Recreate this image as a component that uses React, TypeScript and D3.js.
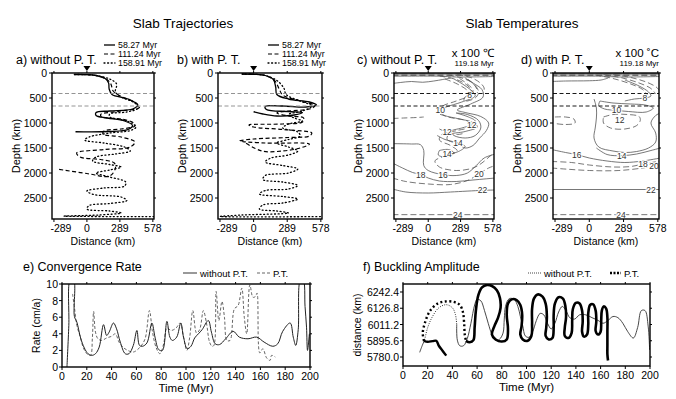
import React from "react";
import * as d3 from "d3";

type Pt = [number, number];
type Contour = { pts: Pt[]; dash?: boolean; label?: string; at?: Pt };

const FONT = "'Liberation Sans', Arial, Helvetica, sans-serif";

// depth sections (a-d)
const distTicks = [-289, 0, 289, 578];
const depthTicks = [0, 500, 1000, 1500, 2000, 2500];
const phaseDepths = [410, 660];
const snapLabels = ["58.27 Myr", "111.24 Myr", "158.91 Myr"];

// a) slab trajectories without phase transitions  [distance km, depth km]
const trajA58: Pt[] = [[-110, 30], [-20, 32], [80, 50], [160, 110], [190, 200], [195, 320], [220, 430], [360, 520], [445, 640], [400, 720], [200, 760], [80, 790], [80, 850], [180, 900], [330, 960], [400, 1050], [360, 1130], [200, 1170], [-100, 1175]];
const trajA111: Pt[] = [[-110, 30], [-20, 32], [80, 50], [170, 120], [210, 220], [230, 360], [300, 470], [430, 600], [460, 690], [300, 760], [120, 830], [130, 880], [300, 920], [410, 1000], [420, 1060], [300, 1120], [150, 1160], [140, 1220], [300, 1280], [420, 1380], [380, 1480], [150, 1530], [-90, 1600], [-60, 1680], [120, 1730], [240, 1800], [250, 1900], [200, 2060], [0, 2010], [-264, 1920]];
const trajA159: Pt[] = [[-110, 30], [-20, 32], [80, 50], [200, 120], [260, 220], [250, 380], [300, 480], [420, 600], [450, 700], [350, 780], [200, 820], [200, 880], [350, 960], [430, 1080], [380, 1150], [200, 1200], [20, 1280], [-20, 1340], [150, 1400], [330, 1480], [380, 1560], [250, 1620], [80, 1680], [50, 1760], [200, 1830], [300, 1880], [200, 1940], [80, 2000], [200, 2080], [340, 2180], [330, 2260], [150, 2300], [0, 2360], [60, 2430], [300, 2480], [350, 2550], [200, 2610], [20, 2650], [0, 2720], [200, 2760], [300, 2800], [100, 2840], [-200, 2862], [300, 2872], [590, 2872]];

// b) slab trajectories with phase transitions
const trajB58: Pt[] = [[-100, 20], [0, 25], [100, 50], [170, 130], [190, 280], [200, 430], [300, 520], [480, 580], [540, 640], [450, 680], [250, 660], [100, 670], [110, 730], [300, 770], [420, 790], [350, 840], [200, 860], [80, 820], [0, 775]];
const trajB111: Pt[] = [[-100, 20], [0, 25], [100, 50], [180, 150], [220, 320], [250, 440], [400, 560], [530, 650], [480, 720], [300, 760], [200, 800], [300, 860], [430, 900], [420, 980], [250, 1020], [-40, 1040], [0, 1080], [250, 1130], [500, 1200], [480, 1260], [300, 1290], [0, 1320], [-120, 1360], [100, 1400], [480, 1420], [400, 1500], [250, 1560], [70, 1560], [-90, 1370]];
const trajB159: Pt[] = [[-100, 20], [0, 25], [100, 50], [200, 150], [260, 300], [280, 430], [400, 560], [500, 660], [420, 760], [300, 830], [350, 900], [420, 960], [300, 1020], [250, 1100], [380, 1180], [400, 1260], [300, 1330], [200, 1400], [300, 1480], [380, 1560], [300, 1640], [150, 1700], [100, 1780], [250, 1850], [380, 1920], [300, 2000], [100, 2050], [80, 2130], [250, 2180], [380, 2250], [300, 2320], [100, 2350], [50, 2420], [250, 2470], [380, 2520], [250, 2600], [80, 2640], [50, 2720], [200, 2760], [300, 2800], [-100, 2840], [-289, 2870], [590, 2872]];

// c) temperature contours without phase transitions (x 100 C)
const tempC: Contour[] = [
  { pts: [[-320, 8], [600, 8]] },
  { pts: [[-320, 22], [600, 22]], dash: true },
  { pts: [[-320, 36], [600, 36]] },
  { pts: [[-320, 50], [600, 50]], dash: true },
  { pts: [[-320, 64], [100, 64], [250, 80], [600, 70]] },
  { pts: [[-320, 210], [-250, 190], [-150, 170], [-50, 185], [50, 160], [130, 130], [200, 100]] },
  { pts: [[100, 60], [250, 130], [340, 230], [380, 330], [390, 420]], dash: true },
  { pts: [[180, 40], [300, 100], [390, 190], [430, 300], [440, 400]], dash: true },
  { pts: [[260, 30], [380, 90], [460, 190], [500, 300], [490, 420]], dash: true },
  { pts: [[280, 110], [350, 220], [400, 340], [390, 410], [330, 480], [320, 560], [420, 500], [450, 380], [420, 250], [350, 120]], dash: true, label: "8", at: [370, 433] },
  { pts: [[230, 120], [320, 240], [400, 380], [420, 460], [300, 580], [160, 680], [107, 733], [130, 830], [260, 910], [400, 990], [440, 1080], [330, 1170], [180, 1240], [170, 1330], [270, 1420], [330, 1500], [400, 1450], [460, 1300], [520, 1150], [540, 1000], [470, 870], [330, 790], [260, 740], [380, 620], [490, 480], [480, 330], [400, 200], [330, 100]], label: "10", at: [107, 733] },
  { pts: [[150, 120], [260, 220], [350, 350], [370, 440], [250, 560], [120, 670], [80, 780], [180, 880], [350, 960], [400, 1060], [260, 1150], [120, 1230], [100, 1340], [200, 1450], [260, 1560], [150, 1660], [60, 1760], [100, 1880], [250, 1950], [400, 1900], [480, 1800], [560, 1650], [600, 1600]], dash: true },
  { pts: [[250, 800], [360, 880], [420, 960], [390, 1033], [300, 1100], [200, 1170], [230, 1250], [330, 1300], [420, 1250], [470, 1100], [450, 950], [350, 830], [250, 800]], label: "12", at: [390, 1033] },
  { pts: [[100, 1120], [169, 1187], [260, 1230], [330, 1200]], dash: true, label: "12", at: [169, 1187] },
  { pts: [[80, 1250], [150, 1330], [267, 1400], [330, 1470], [280, 1560], [200, 1620]], label: "14", at: [267, 1400] },
  { pts: [[100, 1550], [180, 1530], [230, 1600], [169, 1680], [90, 1640], [100, 1550]], label: "14", at: [169, 1620] },
  { pts: [[-320, 910], [-220, 900], [-100, 890], [-40, 880]], dash: true },
  { pts: [[-320, 1413], [-150, 1420], [-70, 1433], [-40, 1550], [-40, 1850], [0, 1950], [132, 2033], [250, 2050], [350, 2000], [430, 1850], [500, 1700], [600, 1620]], label: "16", at: [132, 2033] },
  { pts: [[-320, 1800], [-230, 1900], [-140, 1990], [-67, 2033], [0, 2100], [100, 2160], [250, 2170], [400, 2140], [600, 2100]], label: "18", at: [-67, 2033] },
  { pts: [[-320, 2100], [-200, 2170], [0, 2220], [200, 2230], [350, 2150], [454, 2020], [540, 1900], [600, 1850]], dash: true, label: "20", at: [454, 2020] },
  { pts: [[-320, 2320], [-200, 2380], [0, 2400], [200, 2380], [485, 2347], [600, 2340]], label: "22", at: [485, 2347] },
  { pts: [[-320, 2833], [600, 2833]], dash: true, label: "24", at: [264, 2833] },
];

// d) temperature contours with phase transitions (x 100 C)
const tempD: Contour[] = [
  { pts: [[-320, 8], [600, 8]] },
  { pts: [[-320, 22], [600, 22]], dash: true },
  { pts: [[-320, 36], [600, 36]] },
  { pts: [[-320, 50], [600, 50]], dash: true },
  { pts: [[-320, 64], [100, 64], [250, 80], [600, 70]] },
  { pts: [[-320, 170], [-200, 160], [0, 155], [100, 140], [160, 100]] },
  { pts: [[50, 40], [200, 110], [350, 220], [450, 330], [490, 440]], dash: true },
  { pts: [[120, 30], [280, 100], [420, 200], [520, 310], [560, 420]], dash: true },
  { pts: [[200, 30], [350, 90], [480, 180], [570, 290], [600, 380]], dash: true },
  { pts: [[300, 140], [420, 260], [500, 380], [520, 460], [468, 500], [380, 520], [300, 560]], label: "8", at: [468, 500] },
  { pts: [[90, 560], [200, 600], [350, 620], [470, 640], [540, 700], [480, 780], [330, 770], [229, 747], [130, 720], [80, 650], [90, 560]], label: "10", at: [229, 747] },
  { pts: [[120, 880], [200, 830], [320, 830], [420, 870], [430, 950], [400, 1050], [300, 1120], [180, 1100], [120, 1000], [120, 880]], dash: true, label: "12", at: [257, 933] },
  { pts: [[40, 520], [60, 700], [60, 900], [50, 1100], [40, 1300], [80, 1480], [200, 1560], [300, 1590], [400, 1570], [500, 1500], [560, 1380], [560, 1200], [520, 1000], [560, 850], [600, 800]] },
  { pts: [[-290, 880], [-200, 880], [-130, 920], [-120, 1000], [-200, 1030], [-290, 1010]], dash: true },
  { pts: [[60, 1500], [150, 1630], [273, 1653], [400, 1620], [520, 1550], [600, 1500]], label: "14", at: [273, 1653] },
  { pts: [[-320, 1530], [-200, 1590], [-105, 1633], [0, 1700], [150, 1760], [300, 1790], [450, 1760], [600, 1700]], label: "16", at: [-105, 1633] },
  { pts: [[-320, 1770], [-150, 1790], [0, 1840], [200, 1880], [350, 1870], [453, 1820], [600, 1760]], dash: true, label: "18", at: [453, 1820] },
  { pts: [[-320, 1900], [0, 1950], [250, 1950], [450, 1900], [560, 1853], [600, 1830]], dash: true, label: "20", at: [545, 1860] },
  { pts: [[-320, 2330], [600, 2330]], label: "22", at: [521, 2330] },
  { pts: [[-320, 2833], [600, 2833]], dash: true, label: "24", at: [267, 2833] },
];

// e) convergence rate  [time Myr, rate cm/a]
const timeTicks = [0, 20, 40, 60, 80, 100, 120, 140, 160, 180, 200];
const rateTicks = [0, 2, 4, 6, 8, 10];
const convNoPT: Pt[] = [[4, 0], [5.5, 5], [6.7, 10.5], [9.4, 10.5], [10, 6.1], [12, 5.4], [15, 3.5], [18, 2.3], [21, 1.6], [24, 1.4], [27, 1.6], [30, 2.4], [33.5, 5.1], [36, 3.8], [38, 4.2], [41.5, 5.3], [44, 4.6], [47, 3.0], [51, 1.6], [54, 1.6], [57.5, 2.6], [60.4, 4.4], [62.5, 2.6], [65, 2.5], [68.5, 2.9], [72.5, 5.3], [75, 3.6], [78, 2.1], [81, 2.0], [84.6, 5.5], [87, 3.6], [89, 3.2], [92.5, 3.6], [95.8, 5.3], [98, 3.6], [101, 2.2], [104, 2.5], [107, 3.5], [110, 4.0], [113, 4.5], [118, 5.6], [120.5, 4.2], [123.5, 2.8], [127, 2.7], [132, 3.4], [138, 4.3], [143, 3.6], [150, 3.4], [157, 3.6], [163, 3.0], [170, 2.5], [174, 2.8], [178, 4.3], [184, 5.3], [186.5, 3.6], [188.5, 2.6], [190.5, 4.5], [192.3, 10.5], [194.5, 10.5], [196, 7.3], [197.2, 4.8], [198, 2.0], [199.5, 4.0]];
const convPT: Pt[] = [[8.5, 8.8], [10, 7.2], [12, 5.0], [14.8, 3.6], [17, 2.4], [20, 1.6], [23, 1.4], [24.5, 3.5], [25.5, 6.7], [27, 4.2], [29, 3.4], [32, 3.2], [36, 3.5], [40, 3.7], [43, 4.0], [46, 3.0], [49, 2.4], [53, 2.0], [57.5, 1.8], [63, 2.4], [67, 3.4], [70.5, 6.8], [73, 4.2], [76, 2.3], [79, 1.6], [82, 2.8], [84.6, 4.7], [88, 4.4], [92, 4.7], [95.3, 5.3], [98, 3.6], [100.7, 2.0], [103, 3.6], [105.5, 6.8], [108.5, 4.1], [111, 4.5], [114, 6.8], [116.5, 5.3], [119, 3.0], [121, 2.5], [122.5, 2.6], [124.3, 9.1], [126.5, 5.6], [129, 7.9], [131, 6.0], [133, 3.2], [135.5, 3.2], [139, 7.0], [142, 7.4], [145, 9.5], [147, 6.0], [149, 4.0], [151.5, 9.9], [154, 8.4], [156, 8.5], [157.3, 8.9], [159.5, 1.7], [162, 2.2], [165, 1.1], [167.8, 0.8], [169, 1.4], [172, 1.2]];

// f) buckling amplitude  [time Myr, distance km]
const ampTicks = [5780.0, 5895.6, 6011.2, 6126.8, 6242.4];
const ampNoPTStart: Pt[] = [[13.5, 5813], [15.5, 5860], [17.6, 5903]];
const ampNoPTArch: Pt[] = [[17.6, 5903], [20, 5990], [24, 6070], [29, 6130], [35, 6152], [40, 6130], [42.5, 6080], [43.5, 6010]];
const ampNoPTMain: Pt[] = [[43.5, 6010], [44, 5900], [46, 5860], [49, 5860], [52, 5910], [55, 6020], [58, 6150], [60, 6190], [63, 6180], [66, 6110], [69, 6020], [72, 5940], [75, 5900], [78, 5905], [81, 5950], [82, 6050], [83, 6140], [86, 6195], [90, 6190], [93, 6140], [95, 6070], [97, 6000], [99, 5930], [102, 5920], [105, 5960], [108, 6040], [111, 6090], [114, 6080], [117, 6020], [120, 5980], [123, 6020], [126, 6100], [129, 6140], [132, 6110], [135, 6060], [139, 6050], [143, 6080], [148, 6080], [153, 6060], [158, 6040], [162, 6020], [166, 6040], [170, 6068], [174, 6060], [178, 6020], [182, 5960], [186.5, 5915], [190, 5990], [193, 6110], [196, 6110], [198.5, 6000], [199.7, 5830]];
const ampPTHook: Pt[] = [[35, 5790], [32, 5825], [29, 5860], [27, 5895], [24, 5893], [20, 5888], [17, 5895]];
const ampPTArch: Pt[] = [[17, 5895], [16, 5950], [18, 6030], [22, 6110], [28, 6160], [34, 6175], [41, 6172], [46, 6150], [48.5, 6100], [49.5, 6020], [50, 5940], [51, 5895]];
const ampPTLoops: Pt[] = [[51, 5895], [54, 5885], [57, 5900], [58, 5990], [59, 6110], [61, 6220], [64, 6275], [68, 6292], [72, 6285], [76, 6255], [78.5, 6200], [79, 6130], [77, 6060], [74, 6000], [72, 5940], [75, 5905], [80, 5890], [84, 5905], [85, 5980], [84, 6080], [85, 6160], [88, 6190], [92, 6185], [95, 6150], [96.5, 6080], [96, 6000], [95, 5940], [97, 5905], [101, 5895], [104, 5930], [104.5, 6020], [104.5, 6120], [106, 6195], [109, 6225], [113, 6210], [115.5, 6160], [116.5, 6070], [116, 5990], [115.5, 5930], [118, 5905], [121, 5915], [122, 5990], [122, 6080], [123, 6160], [126, 6205], [129.5, 6195], [131.5, 6140], [132, 6060], [131, 5990], [131, 5930], [134, 5915], [136.5, 5950], [137, 6040], [137.5, 6120], [140, 6165], [143, 6160], [145, 6110], [145.5, 6030], [145, 5960], [146.5, 5925], [149, 5940], [150, 6010], [150, 6090], [151.5, 6150], [154, 6155], [156, 6110], [156.5, 6030], [156, 5965], [158, 5940], [160, 5960], [160.5, 6040], [161, 6110], [162.5, 6140], [164.5, 6125], [165.5, 6060], [165.5, 5960], [165.5, 5860], [165.5, 5800], [166, 5755]];

const DIST_DOMAIN: Pt = [-306, 588];
const DEPTH_DOMAIN: Pt = [0, 2920];
const SEC_TOP = 73;
const SEC_BOTTOM = 219;

type Scale = d3.ScaleLinear<number, number>;
type LineFn = (pts: Pt[]) => string;

function makeLine(x: Scale, y: Scale): LineFn {
  const g = d3
    .line<Pt>()
    .x((d) => x(d[0]))
    .y((d) => y(d[1]))
    .curve(d3.curveCatmullRom.alpha(0.5));
  return (pts) => g(pts) || "";
}

function Section(props: {
  id: string;
  left: number;
  right: number;
  title: string;
  titleX: number;
  phaseColor: string;
  children: (x: Scale, y: Scale, line: LineFn) => React.ReactNode;
}) {
  const { id, left, right, title, titleX, phaseColor, children } = props;
  const x = d3.scaleLinear().domain(DIST_DOMAIN).range([left, right]);
  const y = d3.scaleLinear().domain(DEPTH_DOMAIN).range([SEC_TOP, SEC_BOTTOM]);
  const line = makeLine(x, y);
  const x0 = x(0);
  return (
    <g>
      <text x={titleX} y={64} fontSize={12.5}>{title}</text>
      <clipPath id={id}>
        <rect x={left} y={SEC_TOP} width={right - left} height={SEC_BOTTOM - SEC_TOP} />
      </clipPath>
      <g clipPath={`url(#${id})`}>
        {children(x, y, line)}
        {phaseDepths.map((d) => (
          <line key={d} x1={left} x2={right} y1={y(d)} y2={y(d)} stroke={phaseColor} strokeWidth={0.9} strokeDasharray="4 2.5" />
        ))}
      </g>
      <rect x={left} y={SEC_TOP} width={right - left} height={SEC_BOTTOM - SEC_TOP} fill="none" stroke="#000" strokeWidth={1.4} />
      {depthTicks.map((d) => (
        <g key={d}>
          <line x1={left - 3} x2={left} y1={y(d)} y2={y(d)} stroke="#000" />
          <line x1={right} x2={right + 2} y1={y(d)} y2={y(d)} stroke="#000" />
          <text x={left - 5} y={y(d) + 4} fontSize={10.5} textAnchor="end">{d}</text>
        </g>
      ))}
      {distTicks.map((d) => (
        <g key={d}>
          <line x1={x(d)} x2={x(d)} y1={SEC_BOTTOM} y2={SEC_BOTTOM + 3} stroke="#000" />
          <line x1={x(d)} x2={x(d)} y1={SEC_TOP - 2} y2={SEC_TOP} stroke="#000" />
          <text x={x(d) + (d < 0 ? 7 : 0)} y={232} fontSize={10.5} textAnchor="middle">{d}</text>
        </g>
      ))}
      <path d={`M${x0 - 3.5},${SEC_TOP - 7}L${x0 + 3.5},${SEC_TOP - 7}L${x0},${SEC_TOP - 2}Z`} fill="#000" />
      <text x={(left + right) / 2} y={245} fontSize={10.5} textAnchor="middle">Distance (km)</text>
      <text transform={`translate(${left - 32},${(SEC_TOP + SEC_BOTTOM) / 2}) rotate(-90)`} fontSize={11} textAnchor="middle">Depth (km)</text>
    </g>
  );
}

const trajStyles = [
  { dash: undefined, width: 1.3 },
  { dash: "4 2.5", width: 1.2 },
  { dash: "1 2.6", width: 1.3 },
];

function TrajPanel(props: { id: string; left: number; right: number; title: string; titleX: number; legendX: number; series: Pt[][] }) {
  const { id, left, right, title, titleX, legendX, series } = props;
  return (
    <g>
      <Section id={id} left={left} right={right} title={title} titleX={titleX} phaseColor="#888">
        {(x, y, line) =>
          series.map((s, i) => (
            <path key={i} d={line(s)} fill="none" stroke="#000" strokeWidth={trajStyles[i].width} strokeDasharray={trajStyles[i].dash} strokeLinecap={i === 2 ? "round" : "butt"} />
          ))
        }
      </Section>
      {snapLabels.map((s, i) => (
        <g key={s}>
          <line x1={legendX} x2={legendX + 11} y1={45 + i * 9} y2={45 + i * 9} stroke="#000" strokeWidth={trajStyles[i].width} strokeDasharray={trajStyles[i].dash} strokeLinecap={i === 2 ? "round" : "butt"} />
          <text x={legendX + 14} y={48 + i * 9} fontSize={8.8}>{s}</text>
        </g>
      ))}
    </g>
  );
}

function TempPanel(props: { id: string; left: number; right: number; title: string; titleX: number; unit: string; contours: Contour[] }) {
  const { id, left, right, title, titleX, unit, contours } = props;
  return (
    <g>
      <Section id={id} left={left} right={right} title={title} titleX={titleX} phaseColor="#000">
        {(x, y, line) => (
          <g>
            {contours.map((c, i) => (
              <path key={i} d={line(c.pts)} fill="none" stroke="#555" strokeWidth={0.8} strokeDasharray={c.dash ? "6 3" : undefined} />
            ))}
            {contours
              .filter((c) => c.label)
              .map((c, i) => (
                <text key={"l" + i} x={x(c.at![0])} y={y(c.at![1]) + 3} fontSize={8.5} textAnchor="middle" fill="#333" stroke="#fff" strokeWidth={2.2} paintOrder="stroke">
                  {c.label}
                </text>
              ))}
          </g>
        )}
      </Section>
      <text x={right} y={57} fontSize={11.5} textAnchor="end">{unit}</text>
      <text x={right} y={66} fontSize={8} textAnchor="end">119.18 Myr</text>
    </g>
  );
}

function TimeAxes(props: { left: number; right: number; top: number; bottom: number; x: Scale; y: Scale; yTicks: number[]; fmt: (v: number) => string; yLabel: string; yLabelX: number }) {
  const { left, right, top, bottom, x, y, yTicks, fmt, yLabel, yLabelX } = props;
  return (
    <g>
      <rect x={left} y={top} width={right - left} height={bottom - top} fill="none" stroke="#000" strokeWidth={1.4} />
      {timeTicks.map((t) => (
        <g key={t}>
          <line x1={x(t)} x2={x(t)} y1={bottom} y2={bottom + 3} stroke="#000" />
          <line x1={x(t)} x2={x(t)} y1={top - 2} y2={top} stroke="#000" />
          <text x={x(t)} y={bottom + 13} fontSize={10.5} textAnchor="middle">{t}</text>
        </g>
      ))}
      {yTicks.map((v) => (
        <g key={v}>
          <line x1={left - 3} x2={left} y1={y(v)} y2={y(v)} stroke="#000" />
          <line x1={right} x2={right + 2} y1={y(v)} y2={y(v)} stroke="#000" />
          <text x={left - 4} y={y(v) + 4} fontSize={10.5} textAnchor="end">{fmt(v)}</text>
        </g>
      ))}
      <text x={(left + right) / 2} y={bottom + 25} fontSize={11.5} textAnchor="middle">Time (Myr)</text>
      <text transform={`translate(${yLabelX},${(top + bottom) / 2}) rotate(-90)`} fontSize={10.5} textAnchor="middle">{yLabel}</text>
    </g>
  );
}

function RatePanel() {
  const left = 62, right = 310, top = 284, bottom = 367;
  const x = d3.scaleLinear().domain([0, 200]).range([left, right]);
  const y = d3.scaleLinear().domain([0, 10]).range([bottom, top]);
  const line = makeLine(x, y);
  return (
    <g>
      <text x={23} y={271} fontSize={12.5}>e) Convergence Rate</text>
      <line x1={183} x2={197} y1={273} y2={273} stroke="#555" strokeWidth={1.2} />
      <text x={200} y={276.5} fontSize={9.5}>without P.T.</text>
      <line x1={257} x2={270} y1={273} y2={273} stroke="#666" strokeWidth={1.2} strokeDasharray="3 2" />
      <text x={273} y={276.5} fontSize={9.5}>P.T.</text>
      <clipPath id="clipE">
        <rect x={left} y={top} width={right - left} height={bottom - top} />
      </clipPath>
      <g clipPath="url(#clipE)">
        <path d={line(convPT)} fill="none" stroke="#666" strokeWidth={1} strokeDasharray="3 2" />
        <path d={line(convNoPT)} fill="none" stroke="#222" strokeWidth={1} />
      </g>
      <TimeAxes left={left} right={right} top={top} bottom={bottom} x={x} y={y} yTicks={rateTicks} fmt={(v) => String(v)} yLabel="Rate (cm/a)" yLabelX={40} />
    </g>
  );
}

function AmpPanel() {
  const left = 403, right = 650, top = 284, bottom = 366;
  const x = d3.scaleLinear().domain([0, 200]).range([left, right]);
  const y = d3.scaleLinear().domain([5716, 6299.3]).range([bottom, top]);
  const line = makeLine(x, y);
  return (
    <g>
      <text x={363} y={271} fontSize={12.5}>f) Buckling Amplitude</text>
      <line x1={528} x2={542} y1={273} y2={273} stroke="#444" strokeWidth={1} strokeDasharray="1 1" />
      <text x={544} y={276.5} fontSize={9.5}>without P.T.</text>
      <line x1={610} x2={621} y1={273} y2={273} stroke="#000" strokeWidth={2.4} strokeDasharray="2 1.5" />
      <text x={624} y={276.5} fontSize={9.5}>P.T.</text>
      <clipPath id="clipF">
        <rect x={left} y={top} width={right - left} height={bottom - top} />
      </clipPath>
      <g clipPath="url(#clipF)">
        <path d={line(ampNoPTStart)} fill="none" stroke="#333" strokeWidth={0.9} />
        <path d={line(ampNoPTArch)} fill="none" stroke="#333" strokeWidth={1} strokeDasharray="1 1.3" />
        <path d={line(ampNoPTMain)} fill="none" stroke="#333" strokeWidth={0.9} />
        <path d={line(ampPTHook)} fill="none" stroke="#000" strokeWidth={2.4} />
        <path d={line(ampPTArch)} fill="none" stroke="#000" strokeWidth={2.4} strokeDasharray="2 2.5" />
        <path d={line(ampPTLoops)} fill="none" stroke="#000" strokeWidth={2.6} />
      </g>
      <TimeAxes left={left} right={right} top={top} bottom={bottom} x={x} y={y} yTicks={ampTicks} fmt={(v) => v.toFixed(1)} yLabel="distance (km)" yLabelX={361} />
    </g>
  );
}

export default function App() {
  return (
    <svg width={676} height={399} style={{ position: "absolute", left: 0, top: 0, background: "#fff" }} fontFamily={FONT}>
      <rect width={676} height={399} fill="#fff" />
      <text x={183} y={28} fontSize={13.5} textAnchor="middle">Slab Trajectories</text>
      <text x={522} y={28} fontSize={13.5} textAnchor="middle">Slab Temperatures</text>
      <TrajPanel id="clipA" left={52} right={154} title="a) without P. T." titleX={16} legendX={104} series={[trajA58, trajA111, trajA159]} />
      <TrajPanel id="clipB" left={218} right={322} title="b) with P. T." titleX={177} legendX={268} series={[trajB58, trajB111, trajB159]} />
      <TempPanel id="clipC" left={394} right={494} title="c) without P. T." titleX={357} unit="x 100 ℃" contours={tempC} />
      <TempPanel id="clipD" left={553} right={659} title="d) with P. T." titleX={521} unit="x 100 ˚C" contours={tempD} />
      <RatePanel />
      <AmpPanel />
    </svg>
  );
}
